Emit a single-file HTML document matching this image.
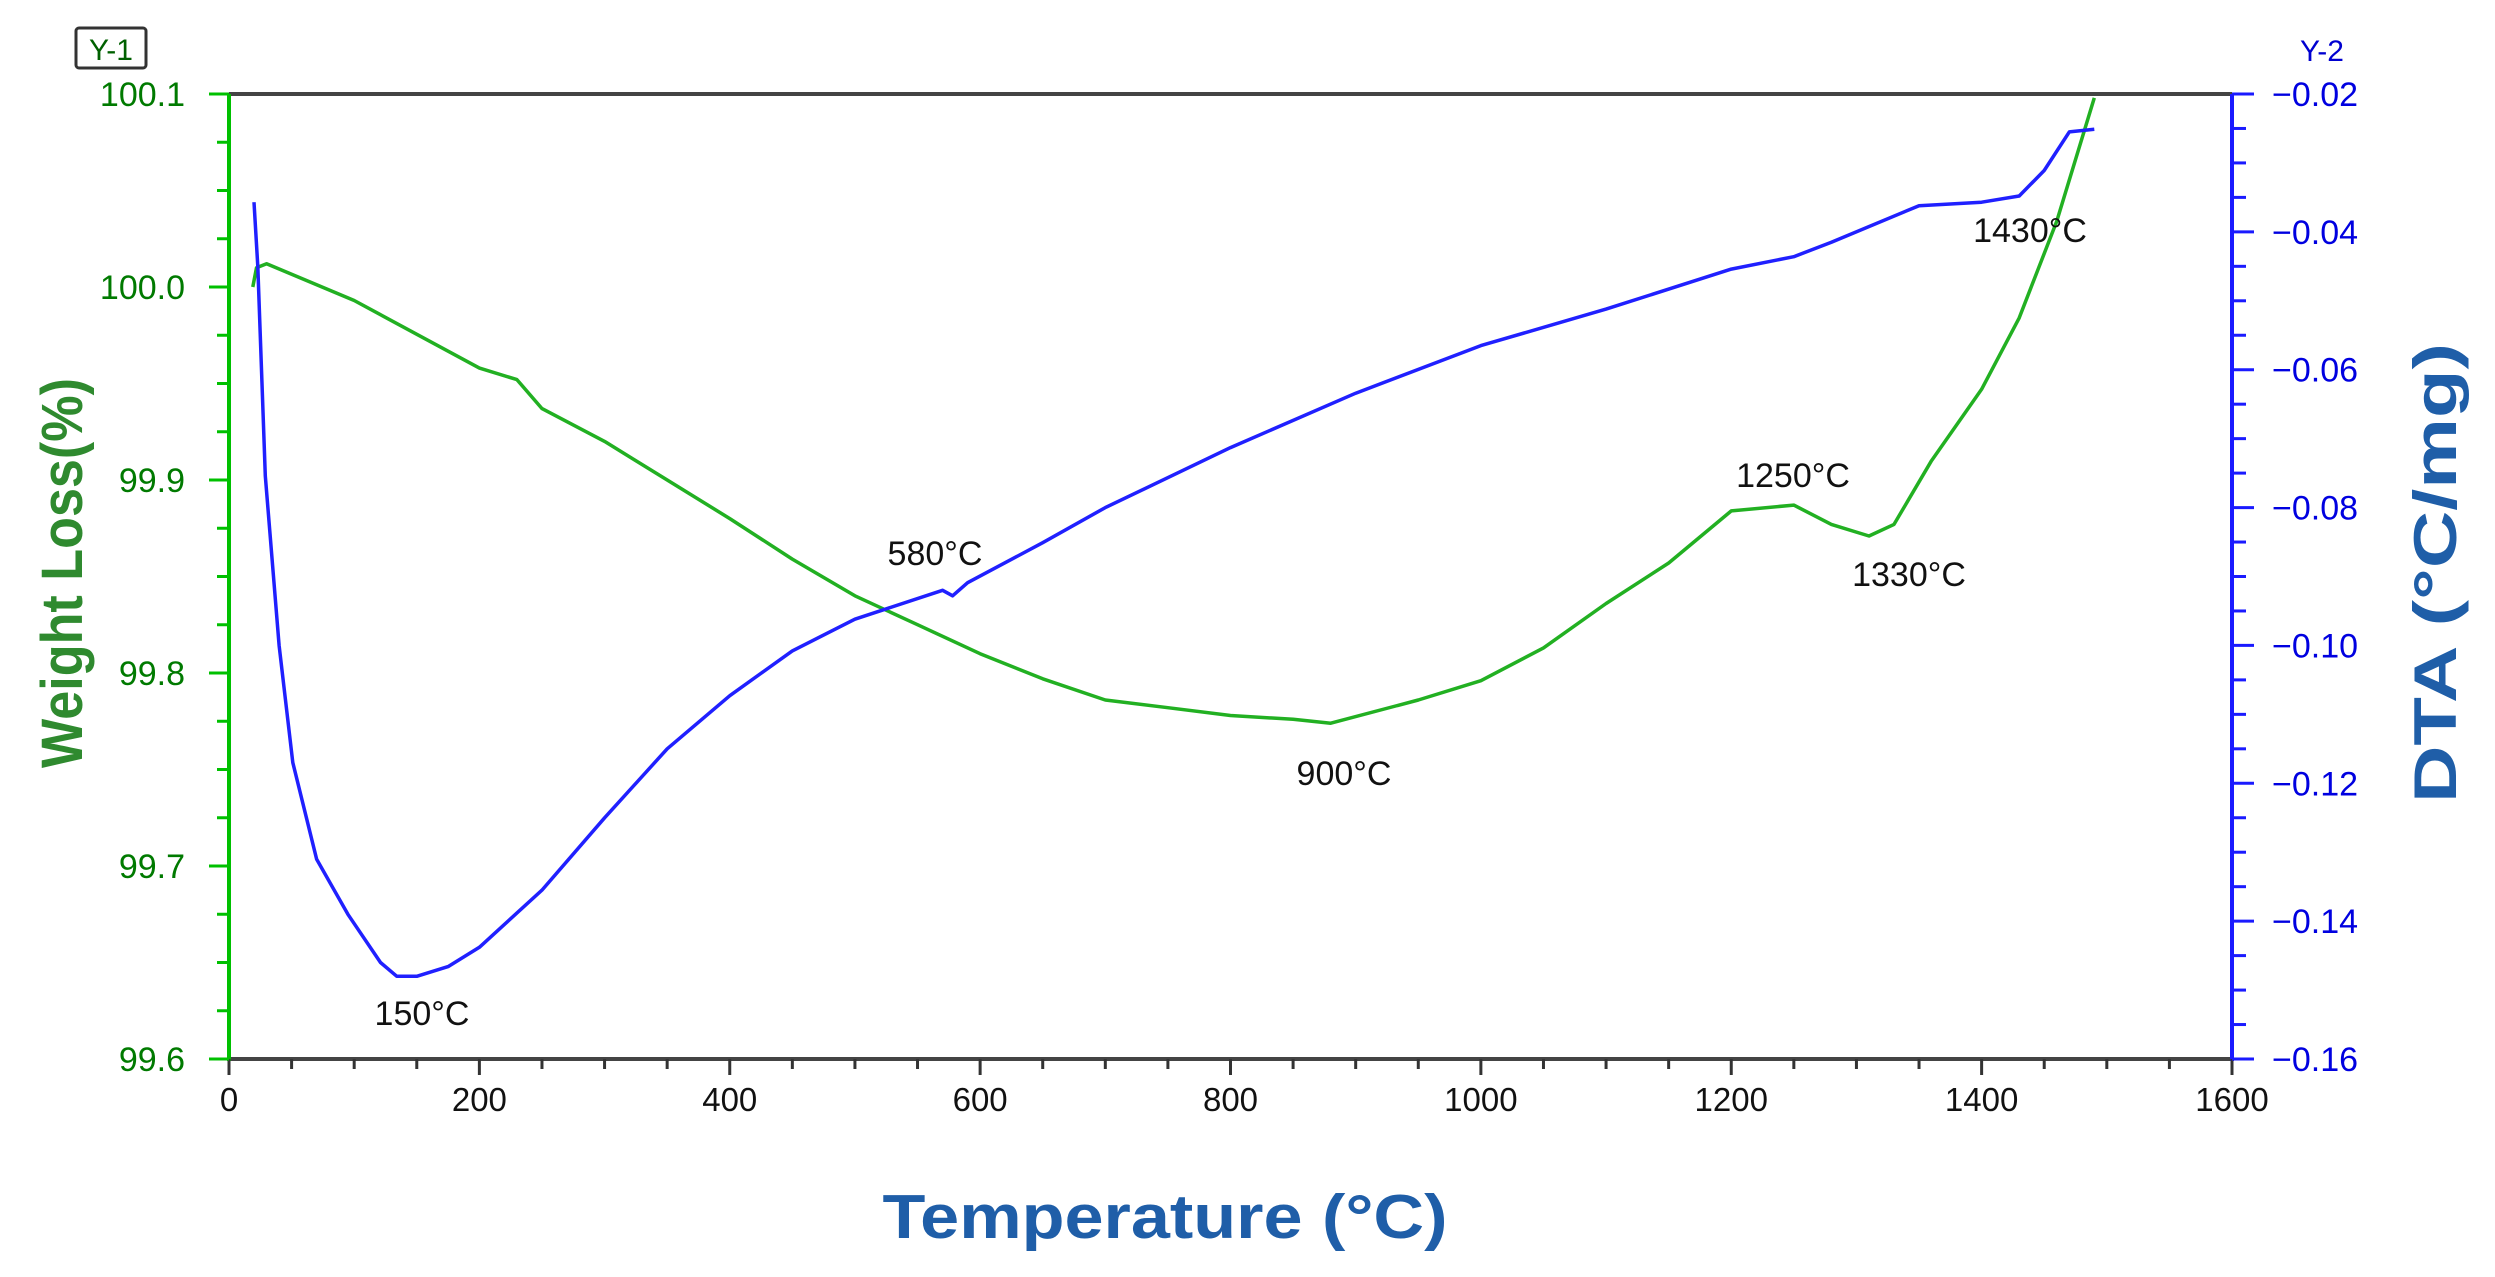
<!DOCTYPE html>
<html><head><meta charset="utf-8"><style>
html,body{margin:0;padding:0;background:#fff;}
svg{display:block;}
text{font-family:"Liberation Sans",sans-serif;}
</style></head><body>
<svg id="chart" width="2495" height="1277" viewBox="0 0 2495 1277" xmlns="http://www.w3.org/2000/svg">
<g id="axes"></g>
<g id="series"></g>
<g id="labels"></g>
</svg>
<script>
// ---- data ----
const tempWeight = [19,22,30,100,200,230,250,300,350,400,450,500,550,600,650,700,750,800,850,880,950,1000,1050,1100,1150,1200,1250,1280,1310,1330,1360,1400,1430,1460,1490];
const weightVals = [100.0,100.01,100.012,99.993,99.958,99.952,99.937,99.920,99.900,99.880,99.859,99.840,99.825,99.810,99.797,99.786,99.782,99.778,99.776,99.774,99.786,99.796,99.813,99.836,99.857,99.884,99.887,99.877,99.871,99.877,99.910,99.947,99.984,100.034,100.098];
const tempDta = [20,23,29,40,51,70,95,121,134,150,175,200,250,300,350,400,450,500,570,578,590,650,700,800,900,1000,1100,1200,1250,1280,1350,1400,1430,1450,1470,1490];
const dtaVals = [-0.0357,-0.045,-0.0754,-0.100,-0.117,-0.131,-0.139,-0.146,-0.148,-0.148,-0.1466,-0.1438,-0.1355,-0.125,-0.115,-0.1073,-0.1008,-0.0962,-0.092,-0.0928,-0.0909,-0.0851,-0.080,-0.0713,-0.0634,-0.0565,-0.0512,-0.0454,-0.0436,-0.0415,-0.0362,-0.0357,-0.0348,-0.0311,-0.0255,-0.0251];
const xTicks = [0,200,400,600,800,1000,1200,1400,1600];
const yLeftTicks = [99.6,99.7,99.8,99.9,100.0,100.1];
const yLeftLabels = ["99.6","99.7","99.8","99.9","100.0","100.1"];
const yRightTicks = [-0.16,-0.14,-0.12,-0.10,-0.08,-0.06,-0.04,-0.02];
const yRightLabels = ["\u22120.16","\u22120.14","\u22120.12","\u22120.10","\u22120.08","\u22120.06","\u22120.04","\u22120.02"];
const annTexts = ["150°C","580°C","900°C","1250°C","1330°C","1430°C"];
const annT = [150,580,900,1250,1330,1430];

// ---- geometry ----
const L=229,R=2232,T=94,B=1059;
const xs=v=>L+(v-0)/(1600-0)*(R-L);
const yl=v=>B-(v-99.6)/(100.1-99.6)*(B-T);
const yr=v=>B-(v-(-0.16))/(0.14)*(B-T);
const NS="http://www.w3.org/2000/svg";
function mk(tag,attrs,parent,txt){const e=document.createElementNS(NS,tag);for(const k in attrs)e.setAttribute(k,attrs[k]);if(txt!==undefined)e.textContent=txt;parent.appendChild(e);return e;}
const ax=document.getElementById('axes'),se=document.getElementById('series'),lb=document.getElementById('labels');

// frame
let e;
e=mk('line',{x1:L,y1:T,x2:R,y2:T,stroke:'#444',"stroke-width":4},ax);


e=mk('line',{x1:L,y1:B,x2:R,y2:B,stroke:'#444',"stroke-width":4},ax);


e=mk('line',{x1:L,y1:T,x2:L,y2:B+2,stroke:'#00c000',"stroke-width":4},ax);


e=mk('line',{x1:R,y1:T,x2:R,y2:B+2,stroke:'#1a1aff',"stroke-width":4},ax);



// x ticks
for(let v=0;v<=1600;v+=50){
  const major=v%200===0;
  e=mk('line',{x1:xs(v),y1:B,x2:xs(v),y2:B+(major?16:10),stroke:'#333',"stroke-width":3},ax);
  
  
}
xTicks.forEach(v=>{
  e=mk('text',{x:xs(v),y:B+52,"text-anchor":'middle',"font-size":33,fill:'#111'},ax,String(v));
  
  
});
// left y ticks
for(let i=0;i<=20;i++){
  const v=99.6+i*0.025, major=i%4===0;
  e=mk('line',{x1:L-(major?20:12),y1:yl(v),x2:L,y2:yl(v),stroke:'#00c000',"stroke-width":3},ax);
  
  
}
yLeftTicks.forEach((v,i)=>{
  e=mk('text',{x:185,y:yl(v)+12,"text-anchor":'end',"font-size":34,fill:'#007a00'},ax,yLeftLabels[i]);
  
  
});
// right y ticks
for(let i=0;i<=28;i++){
  const v=-0.16+i*0.005, major=i%4===0;
  e=mk('line',{x1:R,y1:yr(v),x2:R+(major?22:14),y2:yr(v),stroke:'#1a1aff',"stroke-width":3},ax);
  
  
}
yRightTicks.forEach((v,i)=>{
  e=mk('text',{x:2272,y:yr(v)+12,"text-anchor":'start',"font-size":34,fill:'#0000e0'},ax,yRightLabels[i]);
  
  
});

// Y-1 / Y-2 tags
e=mk('rect',{x:76,y:28,width:70,height:40,rx:3,fill:'none',stroke:'#333',"stroke-width":3},ax);


e=mk('text',{x:111,y:60,"text-anchor":'middle',"font-size":30,fill:'#006000'},ax,'Y-1');


e=mk('text',{x:2322,y:61,"text-anchor":'middle',"font-size":30,fill:'#0000d0'},ax,'Y-2');



// axis titles
e=mk('text',{x:0,y:0,transform:'translate(82,573) rotate(-90)',"text-anchor":'middle',"font-size":58,"font-weight":'bold',fill:'#2f8a2f',textLength:390,lengthAdjust:'spacingAndGlyphs'},ax,'Weight Loss(%)');


e=mk('text',{x:0,y:0,transform:'translate(2456,573) rotate(-90)',"text-anchor":'middle',"font-size":60,"font-weight":'bold',fill:'#1f5ea8',textLength:460,lengthAdjust:'spacingAndGlyphs'},ax,'DTA (°C/mg)');


e=mk('text',{x:1165,y:1238,"text-anchor":'middle',"font-size":62,"font-weight":'bold',fill:'#1f5ea8',textLength:565,lengthAdjust:'spacingAndGlyphs'},ax,'Temperature (°C)');



// series
const pw=tempWeight.map((t,i)=>xs(t).toFixed(1)+','+yl(weightVals[i]).toFixed(1)).join(' ');
e=mk('polyline',{points:pw,fill:'none',stroke:'#22b022',"stroke-width":3.5,"stroke-linejoin":'round'},se);


const pd=tempDta.map((t,i)=>xs(t).toFixed(1)+','+yr(dtaVals[i]).toFixed(1)).join(' ');
e=mk('polyline',{points:pd,fill:'none',stroke:'#2020ff',"stroke-width":3.5,"stroke-linejoin":'round'},se);



// annotations
const annPos=[[422,1025],[935,565],[1344,785],[1793,487],[1909,586],[2030,242]];
annTexts.forEach((s,i)=>{
  e=mk('text',{x:annPos[i][0],y:annPos[i][1],"text-anchor":'middle',"font-size":34,fill:'#111'},lb,s);
  
  
});
</script>
</body></html>
